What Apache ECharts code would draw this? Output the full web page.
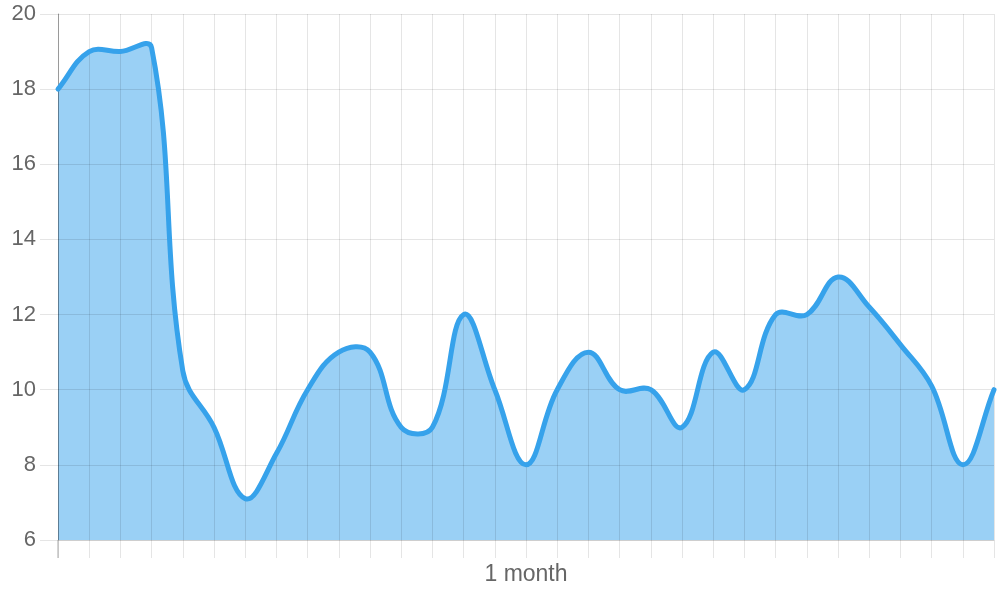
<!DOCTYPE html>
<html>
<head>
<meta charset="utf-8">
<script src="https://cdn.jsdelivr.net/npm/echarts@6/dist/echarts.min.js"></script>
<style>
html,body{margin:0;padding:0;background:#fff;}
#chart{width:1000px;height:600px;}
</style>
</head>
<body>
<div id="chart"></div>
<script>
var categories = [];
for (var i = 0; i < 31; i++) categories.push('d' + i);
var tickLabels = ['', '', '', '', '', '', '', '', '', '', '', '', '', '', '', '1 month', '', '', '', '', '', '', '', '', '', '', '', '', '', '', ''];
var values = [18, 19, 19, 19.1, 10.5, 9, 7.1, 8.3, 10, 11, 11, 9, 9, 12, 10, 8, 10, 11, 10, 10, 9, 11, 10, 12, 12, 13, 12.2, 11.2, 10.1, 8, 10];
var yTicks = { min: 6, max: 20, interval: 2 };

var TENSION = 0.4;
var LINE_COLOR = '#36a2eb';
var FILL_COLOR = 'rgba(54,162,235,0.5)';

function buildPaths(api) {
  var pts = values.map(function (v, i) { return api.coord([i, v]); });
  var base = api.coord([0, yTicks.min])[1];
  var top = api.coord([0, yTicks.max])[1];
  var n = pts.length;
  var cpPrev = [], cpNext = [];
  for (var i = 0; i < n; i++) {
    var p = pts[i];
    var pr = i > 0 ? pts[i - 1] : p;
    var nx = i < n - 1 ? pts[i + 1] : p;
    var d01 = Math.hypot(p[0] - pr[0], p[1] - pr[1]);
    var d12 = Math.hypot(nx[0] - p[0], nx[1] - p[1]);
    var s01 = d01 / (d01 + d12 || 1);
    var s12 = d12 / (d01 + d12 || 1);
    var fa = TENSION * s01, fb = TENSION * s12;
    var a = [p[0] - fa * (nx[0] - pr[0]), p[1] - fa * (nx[1] - pr[1])];
    var b = [p[0] + fb * (nx[0] - pr[0]), p[1] + fb * (nx[1] - pr[1])];
    a[1] = Math.min(base, Math.max(top, a[1]));
    b[1] = Math.min(base, Math.max(top, b[1]));
    cpPrev.push(a); cpNext.push(b);
  }
  var d = 'M' + pts[0][0] + ' ' + pts[0][1];
  for (var j = 1; j < n; j++) {
    d += ' C' + cpNext[j - 1][0] + ' ' + cpNext[j - 1][1] + ' ' + cpPrev[j][0] + ' ' + cpPrev[j][1] + ' ' + pts[j][0] + ' ' + pts[j][1];
  }
  var area = d + ' L' + pts[n - 1][0] + ' ' + base + ' L' + pts[0][0] + ' ' + base + ' Z';
  return { line: d, area: area, x0: pts[0][0], base: base };
}

function renderArea(params, api) {
  if (params.dataIndex !== 0) return null;
  var p = buildPaths(api);
  return { type: 'path', shape: { pathData: p.area }, style: { fill: FILL_COLOR, stroke: null } };
}

function renderLine(params, api) {
  if (params.dataIndex !== 0) return null;
  var p = buildPaths(api);
  return {
    type: 'group',
    children: [
      { type: 'line', shape: { x1: p.x0, y1: p.base, x2: p.x0, y2: p.base + 18 }, style: { stroke: '#a8a8a8', lineWidth: 1 } },
      { type: 'path', shape: { pathData: p.line }, style: { fill: null, stroke: LINE_COLOR, lineWidth: 5, lineJoin: 'round', lineCap: 'round' } }
    ]
  };
}

var seriesData = values.map(function (v, i) { return [i, v]; });
var chart = echarts.init(document.getElementById('chart'), null, { renderer: 'canvas' });
var font = 'Liberation Sans, Arial, Helvetica, sans-serif';
var gridColor = 'rgba(0,0,0,0.1)';
chart.setOption({
  animation: false,
  grid: { left: 58, right: 6, top: 14, bottom: 60, containLabel: false },
  xAxis: {
    type: 'category',
    data: categories,
    boundaryGap: false,
    z: 5,
    axisLine: { show: true, lineStyle: { color: gridColor, width: 1 } },
    axisTick: { show: true, interval: 0, length: 18, lineStyle: { color: gridColor, width: 1 } },
    splitLine: { show: true, interval: 0, lineStyle: { color: gridColor, width: 1 } },
    axisLabel: {
      interval: 0,
      margin: 23,
      color: '#666',
      fontSize: 23,
      fontFamily: font,
      formatter: function (v, idx) { return tickLabels[idx]; }
    }
  },
  yAxis: {
    type: 'value',
    min: yTicks.min, max: yTicks.max, interval: yTicks.interval,
    z: 5,
    axisLine: { show: true, lineStyle: { color: 'rgba(0,0,0,0.33)', width: 1 } },
    axisTick: { show: true, length: 18, lineStyle: { color: gridColor, width: 1 } },
    splitLine: { show: true, lineStyle: { color: gridColor, width: 1 } },
    axisLabel: { margin: 22, color: '#666', fontSize: 22, fontFamily: font }
  },
  series: [{
    type: 'custom',
    data: seriesData,
    encode: { x: 0, y: 1 },
    renderItem: renderArea,
    clip: false,
    z: 1
  }, {
    type: 'custom',
    data: seriesData,
    encode: { x: 0, y: 1 },
    renderItem: renderLine,
    clip: false,
    z: 10
  }]
});
</script>
</body>
</html>
